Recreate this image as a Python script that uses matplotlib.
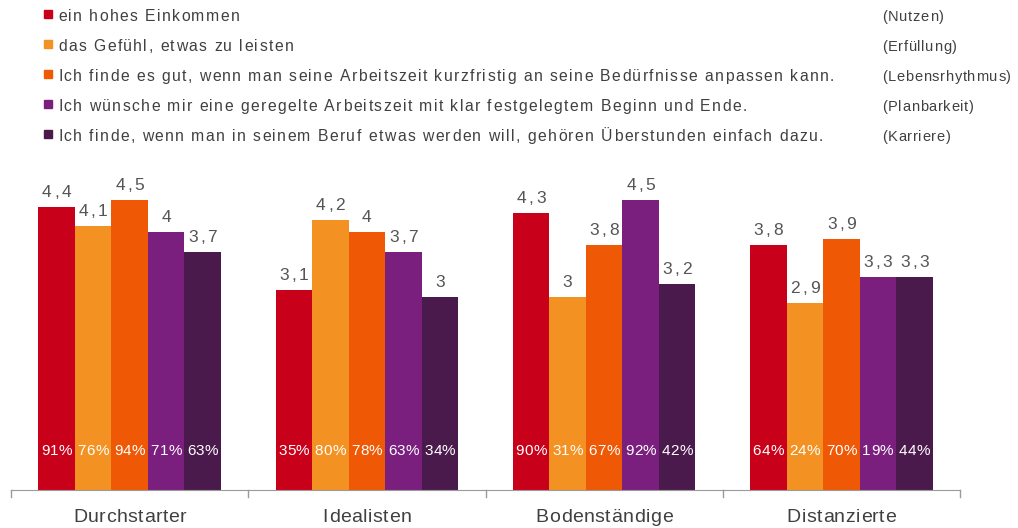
import matplotlib
matplotlib.use("Agg")
import matplotlib.pyplot as plt
import numpy as np
from matplotlib.font_manager import FontProperties, findfont, get_font

FAMILY = "Liberation Sans"
plt.rcParams['font.family'] = [FAMILY, 'DejaVu Sans']

groups = ["Durchstarter", "Idealisten", "Bodenständige", "Distanzierte"]
series_labels = [
    "ein hohes Einkommen",
    "das Gefühl, etwas zu leisten",
    "Ich finde es gut, wenn man seine Arbeitszeit kurzfristig an seine Bedürfnisse anpassen kann.",
    "Ich wünsche mir eine geregelte Arbeitszeit mit klar festgelegtem Beginn und Ende.",
    "Ich finde, wenn man in seinem Beruf etwas werden will, gehören Überstunden einfach dazu.",
]
series_tags = ["(Nutzen)", "(Erfüllung)", "(Lebensrhythmus)", "(Planbarkeit)", "(Karriere)"]
colors = ["#C8001A", "#F39223", "#EF5805", "#7A1F7E", "#4B1A4D"]

# mean scores per series (rows) and group (columns)
means = [
    [4.4, 3.1, 4.3, 3.8],
    [4.1, 4.2, 3.0, 2.9],
    [4.5, 4.0, 3.8, 3.9],
    [4.0, 3.7, 4.5, 3.3],
    [3.7, 3.0, 3.2, 3.3],
]
# share of agreement in percent
shares = [
    [91, 35, 90, 64],
    [76, 80, 31, 24],
    [94, 78, 67, 70],
    [71, 63, 92, 19],
    [63, 34, 42, 44],
]

W, H = 1018, 528
DPI = 100
fig = plt.figure(figsize=(W / DPI, H / DPI), dpi=DPI)


def tracked(x, y, s, size, track, color, ha="left"):
    """Draw a string with extra letter spacing; x, y in pixels (y from bottom, baseline)."""
    font = get_font(findfont(FontProperties(family=FAMILY)))
    font.set_size(size, DPI)
    adv = []
    for c in s:
        g = font.load_char(ord(c))
        adv.append(g.linearHoriAdvance / 65536)
    total = sum(adv) + track * (len(s) - 1)
    cx = x - total / 2 if ha == "center" else x
    for c, a in zip(s, adv):
        if c != " ":
            fig.text(cx / W, y / H, c, ha="left", va="baseline",
                     fontsize=size, color=color, family=FAMILY)
        cx += a + track


ax = fig.add_axes([11 / W, 38 / H, 949 / W, 322 / H])
ax.set_xlim(-0.5, len(groups) - 0.5)
ax.set_ylim(0, 5)
for s in ["top", "right", "left"]:
    ax.spines[s].set_visible(False)
ax.spines["bottom"].set_color("#9a9a9a")
ax.set_yticks([])
ax.set_xticks([])

x = np.arange(len(groups))
bw = 0.154
n = len(series_labels)
pct_level = 0.54
for i in range(n):
    xs = x + (i - (n - 1) / 2) * bw
    ax.bar(xs, means[i], width=bw, color=colors[i], linewidth=0)
    for xi, v, p in zip(xs, means[i], shares[i]):
        lab = f"{v:g}".replace(".", ",")
        px, py = ax.transData.transform((xi, v))
        tracked(px, py + 10, lab, 12.5, 2.4, "#555555", ha="center")
        px, py = ax.transData.transform((xi, pct_level))
        tracked(px, py, f"{p}%", 11, 0.3, "white", ha="center")

for b in np.arange(-0.5, len(groups), 1.0):
    ax.plot([b, b], [0, -0.11], color="#9a9a9a", lw=1, clip_on=False)

for gx, name in zip(x, groups):
    px, _ = ax.transData.transform((gx, 0))
    tracked(px, H - 522, name, 14, 0.55, "#404040", ha="center")

# legend rows at the top
baselines = [21, 51, 81, 111, 141]
for i in range(n):
    yb = H - baselines[i]
    fig.patches.append(plt.Rectangle((44 / W, (yb + 3) / H), 7.5 / W, 8 / H,
                                     transform=fig.transFigure, color=colors[i]))
    tracked(58, yb, series_labels[i], 11.3, 1.42, "#404040")
    tracked(882, yb, series_tags[i], 10.5, 0.75, "#404040")

fig.savefig("out.png", dpi=DPI)
